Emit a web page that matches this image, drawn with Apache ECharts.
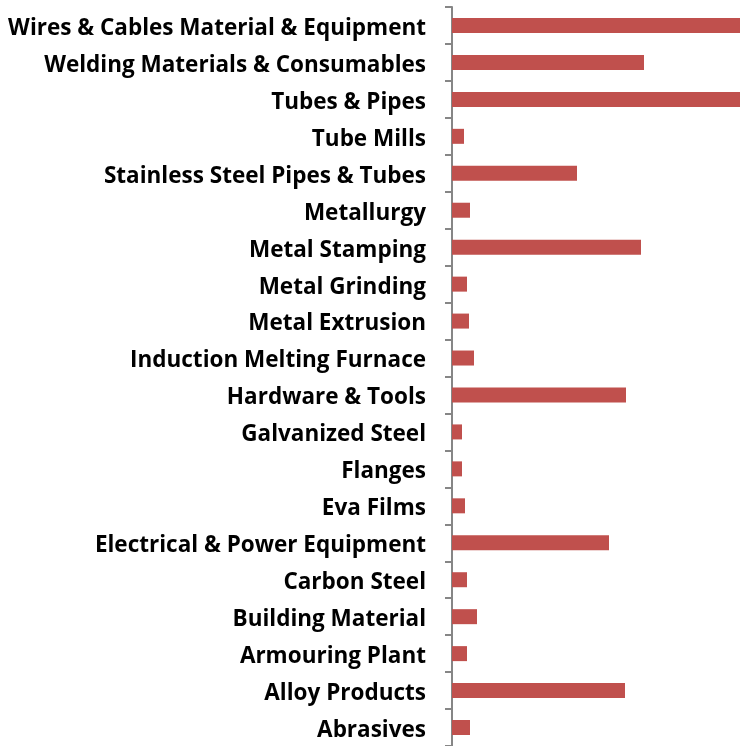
<!DOCTYPE html>
<html>
<head>
<meta charset="utf-8">
<script src="https://cdn.jsdelivr.net/npm/echarts@6/dist/echarts.min.js"></script>
<style>html,body{margin:0;padding:0;background:#fff;}#c{width:740px;height:746px;}</style>
</head>
<body>
<div id="c"></div>
<script>
const categories = [
  "Wires & Cables Material & Equipment",
  "Welding Materials & Consumables",
  "Tubes & Pipes",
  "Tube Mills",
  "Stainless Steel Pipes & Tubes",
  "Metallurgy",
  "Metal Stamping",
  "Metal Grinding",
  "Metal Extrusion",
  "Induction Melting Furnace",
  "Hardware & Tools",
  "Galvanized Steel",
  "Flanges",
  "Eva Films",
  "Electrical & Power Equipment",
  "Carbon Steel",
  "Building Material",
  "Armouring Plant",
  "Alloy Products",
  "Abrasives"
];
const values = [350, 192, 350, 12, 125, 18, 189, 15, 17, 22, 174, 10, 10, 13, 157, 15, 25, 15, 173, 18];

const labelFont = { color: '#000', fontFamily: 'Open Sans', fontWeight: 'bold', fontSize: 22.5 };

const chart = echarts.init(document.getElementById('c'));
chart.setOption({
  animation: false,
  grid: { left: 452, right: 0, top: 7, height: 741, containLabel: false },
  xAxis: {
    type: 'value', min: 0, max: 288, show: false
  },
  yAxis: {
    type: 'category',
    data: categories,
    inverse: true,
    axisLine: { show: true, lineStyle: { color: '#868686', width: 2 } },
    axisTick: { show: true, length: 7, lineStyle: { color: '#868686', width: 2 } },
    axisLabel: Object.assign({
      margin: 26,
      formatter: function (v) { return '{a|' + v + '}'; },
      rich: { a: Object.assign({ padding: [6, 0, 0, 0] }, labelFont) }
    }, labelFont)
  },
  series: [{
    type: 'bar',
    data: values,
    barWidth: 15,
    clip: true,
    itemStyle: { color: '#C0504D' }
  }]
});
</script>
</body>
</html>
